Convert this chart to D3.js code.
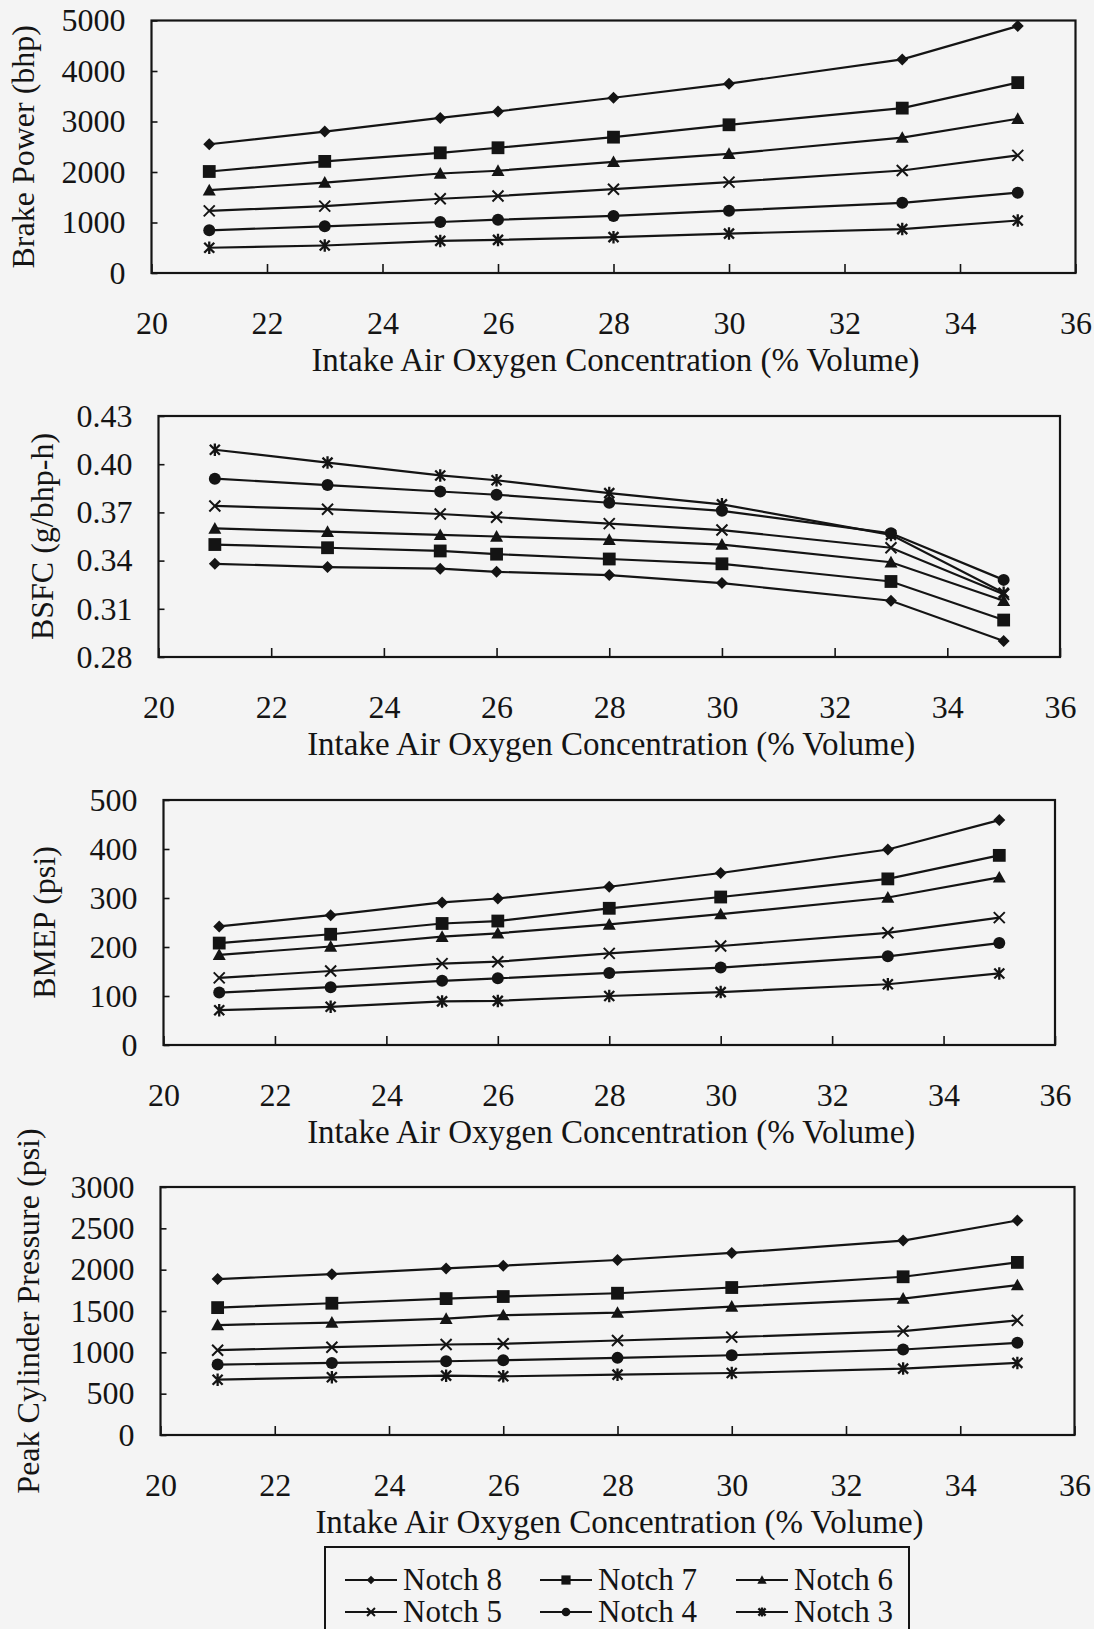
<!DOCTYPE html>
<html>
<head>
<meta charset="utf-8">
<script src="https://cdn.jsdelivr.net/npm/d3@7"></script>
<style>
  html, body { margin: 0; padding: 0; background: #f4f4f4; }
  svg { display: block; }
  text { font-family: "Liberation Serif", "Times New Roman", serif; fill: #141414; }
</style>
</head>
<body>
<svg id="chart" width="1094" height="1629"></svg>
<script>
// Intake air oxygen concentration (% volume) at each test point
const oxygen = [21, 23, 25, 26, 28, 30, 33, 35];
const notches = ["Notch 8", "Notch 7", "Notch 6", "Notch 5", "Notch 4", "Notch 3"];
const markers = ["diamond", "square", "triangle", "cross", "circle", "asterisk"];

// Brake power (bhp), one row per notch (8 .. 3)
const brakePower = [
  [2550, 2800, 3070, 3200, 3470, 3750, 4230, 4890],
  [2010, 2210, 2380, 2480, 2690, 2935, 3265, 3770],
  [1640, 1790, 1970, 2025, 2200, 2360, 2680, 3055],
  [1230, 1325, 1470, 1525, 1660, 1800, 2030, 2330],
  [845, 925, 1010, 1055, 1130, 1235, 1390, 1590],
  [500, 545, 635, 655, 710, 780, 870, 1040]
];

// Brake specific fuel consumption (g/bhp-h)
const bsfc = [
  [0.338, 0.336, 0.335, 0.333, 0.331, 0.326, 0.315, 0.290],
  [0.350, 0.348, 0.346, 0.344, 0.341, 0.338, 0.327, 0.303],
  [0.360, 0.358, 0.356, 0.355, 0.353, 0.350, 0.339, 0.315],
  [0.374, 0.372, 0.369, 0.367, 0.363, 0.359, 0.348, 0.319],
  [0.391, 0.387, 0.383, 0.381, 0.376, 0.371, 0.357, 0.328],
  [0.409, 0.401, 0.393, 0.390, 0.382, 0.375, 0.356, 0.320]
];

// Brake mean effective pressure (psi)
const bmep = [
  [242, 265, 291, 299, 323, 351, 399, 459],
  [208, 226, 248, 253, 279, 302, 339, 387],
  [184, 201, 221, 228, 246, 267, 301, 342],
  [137, 151, 166, 170, 187, 202, 229, 260],
  [107, 118, 131, 136, 147, 158, 181, 208],
  [71, 78, 89, 90, 100, 108, 124, 146]
];

// Peak cylinder pressure (psi)
const peakPressure = [
  [1886, 1946, 2015, 2048, 2117, 2202, 2352, 2595],
  [1541, 1594, 1650, 1675, 1715, 1784, 1914, 2088],
  [1330, 1360, 1407, 1450, 1480, 1553, 1650, 1813],
  [1026, 1062, 1095, 1103, 1143, 1184, 1257, 1387],
  [852, 872, 892, 904, 933, 965, 1034, 1115],
  [669, 698, 718, 710, 730, 750, 803, 872]
];

// Axis ticks and labels
const xTicks = [20, 22, 24, 26, 28, 30, 32, 34, 36];
const brakePowerTicks = [0, 1000, 2000, 3000, 4000, 5000];
const bsfcTicks = [0.28, 0.31, 0.34, 0.37, 0.40, 0.43];
const bmepTicks = [0, 100, 200, 300, 400, 500];
const peakTicks = [0, 500, 1000, 1500, 2000, 2500, 3000];
const xTitle = "Intake Air Oxygen Concentration (% Volume)";

const panels = [
  { data: brakePower, ticks: brakePowerTicks, fmt: d3.format("d"), title: "Brake Power (bhp)",
    box: { l: 151.5, r: 1075.5, t: 20.5, b: 273 }, titleX: 23 },
  { data: bsfc, ticks: bsfcTicks, fmt: d3.format(".2f"), title: "BSFC (g/bhp-h)",
    box: { l: 158.5, r: 1060, t: 416, b: 657 }, titleX: 41.5 },
  { data: bmep, ticks: bmepTicks, fmt: d3.format("d"), title: "BMEP (psi)",
    box: { l: 163.5, r: 1055, t: 800, b: 1045 }, titleX: 43.5 },
  { data: peakPressure, ticks: peakTicks, fmt: d3.format("d"), title: "Peak Cylinder Pressure (psi)",
    box: { l: 160.5, r: 1074.5, t: 1187, b: 1435 }, titleX: 28 }
];

const INK = "#141414";
const FONT = 32;
const TITLE_FONT = 33;
const LEGEND_FONT = 31;
const SERIF = "'Liberation Serif', 'Times New Roman', serif";
const svg = d3.select("#chart");

// Marker glyphs drawn around (0,0); k scales the glyph
function drawMarker(g, type, k) {
  k = k || 1;
  if (type === "diamond") {
    const r = 6 * k;
    g.append("path").attr("d", `M0,${-r}L${r},0L0,${r}L${-r},0Z`).attr("fill", INK);
  } else if (type === "square") {
    const h = 6.4 * k;
    g.append("rect").attr("x", -h).attr("y", -h).attr("width", 2 * h).attr("height", 2 * h).attr("fill", INK);
  } else if (type === "triangle") {
    const r = 6.5 * k;
    g.append("path").attr("d", `M0,${-r}L${r},${r * 0.8}L${-r},${r * 0.8}Z`).attr("fill", INK);
  } else if (type === "circle") {
    g.append("circle").attr("r", 6 * k).attr("fill", INK);
  } else if (type === "cross") {
    const r = 5.5 * k;
    g.append("path").attr("d", `M${-r},${-r}L${r},${r}M${-r},${r}L${r},${-r}`)
      .attr("stroke", INK).attr("stroke-width", 2).attr("fill", "none");
  } else if (type === "asterisk") {
    const r = 5 * k;
    g.append("path").attr("d", `M${-r},${-r}L${r},${r}M${-r},${r}L${r},${-r}M0,${-r * 1.25}L0,${r * 1.25}`)
      .attr("stroke", INK).attr("stroke-width", 2.3).attr("fill", "none");
  }
}

panels.forEach(p => {
  const { l, r, t, b } = p.box;
  const x = d3.scaleLinear().domain([20, 36]).range([l, r]);
  const y = d3.scaleLinear().domain([p.ticks[0], p.ticks[p.ticks.length - 1]]).range([b, t]);
  const g = svg.append("g");

  // x axis: inward ticks on the bottom frame, labels well below
  const xAxis = g.append("g").attr("transform", `translate(0,${b})`)
    .call(d3.axisBottom(x).tickValues(xTicks).tickFormat(d3.format("d"))
      .tickSizeInner(-9).tickSizeOuter(0).tickPadding(38));
  xAxis.select(".domain").remove();
  xAxis.selectAll("line").attr("stroke", INK).attr("stroke-width", 1.6);
  xAxis.selectAll("text").attr("font-size", FONT).attr("fill", INK).style("font-family", SERIF);

  // y axis: short inward ticks, labels right-aligned left of the frame
  const yAxis = g.append("g").attr("transform", `translate(${l},0)`)
    .call(d3.axisLeft(y).tickValues(p.ticks).tickFormat(p.fmt)
      .tickSizeInner(-6).tickSizeOuter(0).tickPadding(26));
  yAxis.select(".domain").remove();
  yAxis.selectAll("line").attr("stroke", INK).attr("stroke-width", 1.6);
  yAxis.selectAll("text").attr("font-size", FONT).attr("fill", INK).style("font-family", SERIF);

  // plot frame
  g.append("rect").attr("x", l).attr("y", t).attr("width", r - l).attr("height", b - t)
    .attr("fill", "none").attr("stroke", INK).attr("stroke-width", 2.2);

  // series lines and markers
  const line = d3.line().x((d, i) => x(oxygen[i])).y(d => y(d));
  p.data.forEach((series, si) => {
    g.append("path").datum(series).attr("d", line)
      .attr("fill", "none").attr("stroke", INK).attr("stroke-width", 2.2);
    series.forEach((v, i) => {
      const m = g.append("g").attr("transform", `translate(${x(oxygen[i])},${y(v)})`);
      drawMarker(m, markers[si], 1);
    });
  });

  // axis titles
  g.append("text").attr("x", (l + r) / 2 + 2).attr("y", b + 98)
    .attr("text-anchor", "middle").attr("font-size", TITLE_FONT).text(xTitle);
  g.append("text")
    .attr("transform", `translate(${p.titleX},${(t + b) / 2}) rotate(-90)`)
    .attr("text-anchor", "middle").attr("dy", "0.35em").attr("font-size", FONT).text(p.title);
});

// Legend: two rows of three entries, box runs past the bottom of the page
const legend = svg.append("g");
legend.append("rect").attr("x", 325).attr("y", 1547).attr("width", 584).attr("height", 100)
  .attr("fill", "none").attr("stroke", INK).attr("stroke-width", 2);
const colX = [345, 540, 736];
const rowY = [1580, 1612];
notches.forEach((name, i) => {
  const cx = colX[i % 3], cy = rowY[Math.floor(i / 3)];
  const item = legend.append("g").attr("transform", `translate(${cx},${cy})`);
  item.append("line").attr("x1", 0).attr("x2", 52).attr("y1", 0).attr("y2", 0)
    .attr("stroke", INK).attr("stroke-width", 2);
  const m = item.append("g").attr("transform", "translate(26,0)");
  drawMarker(m, markers[i], 0.72);
  item.append("text").attr("x", 58).attr("y", 0).attr("dy", "0.33em")
    .attr("font-size", LEGEND_FONT).text(name);
});
</script>
</body>
</html>
